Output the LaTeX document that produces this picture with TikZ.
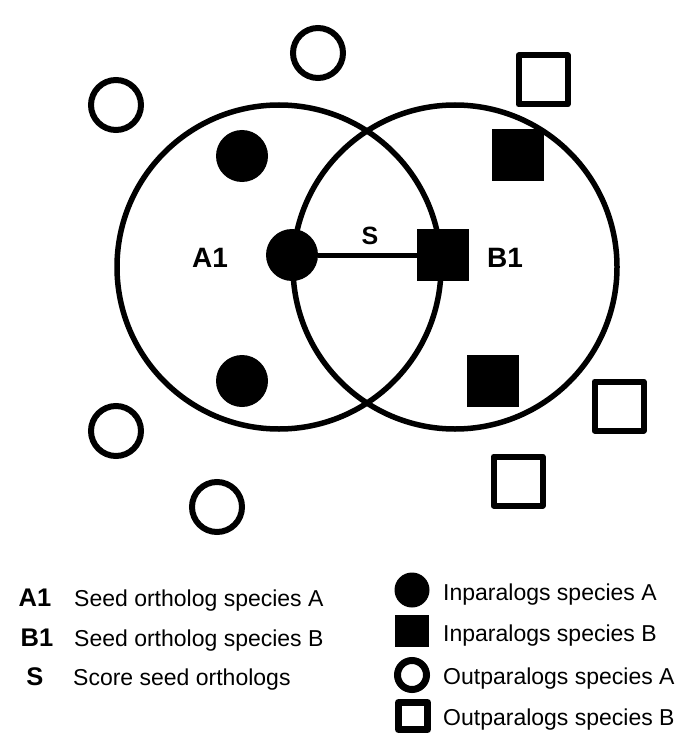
\documentclass[tikz,border=0pt]{standalone}
\usepackage{fontspec}
\setmainfont{Liberation Sans}
\begin{document}
\begin{tikzpicture}[x=1pt,y=-1pt,
  setc/.style={circle, draw, line width=5.5pt, minimum size=324pt, inner sep=0pt},
  inA/.style={circle, fill=black, minimum size=52pt, inner sep=0pt},
  inB/.style={rectangle, fill=black, minimum width=52pt, minimum height=52pt, inner sep=0pt},
  outA/.style={circle, draw, line width=6pt, minimum size=50pt, inner sep=0pt},
  outB/.style={rectangle, draw, line width=6pt, line join=round, minimum width=49pt, minimum height=49pt, inner sep=0pt},
  biglbl/.style={font=\fontsize{28}{30}\selectfont\bfseries, inner sep=0pt, anchor=base},
  keylbl/.style={font=\fontsize{25.5}{28}\selectfont\bfseries, inner sep=0pt, anchor=base},
  keytxt/.style={font=\fontsize{23}{26}\selectfont, inner sep=0pt, anchor=base west},
  kinA/.style={circle, fill=black, minimum size=35pt, inner sep=0pt},
  kinB/.style={rectangle, fill=black, minimum width=34pt, minimum height=32pt, inner sep=0pt},
  koutA/.style={circle, draw, line width=7pt, minimum size=29pt, inner sep=0pt},
  koutB/.style={rectangle, draw, line width=7pt, line join=round, minimum width=29pt, minimum height=27pt, inner sep=0pt}
]
\fill[white] (0,0) rectangle (685,746);
\useasboundingbox (0,0) rectangle (685,746);

% sets
\node[setc] (setA) at (279,267) {};
\node[setc] (setB) at (455,267) {};

% inparalogs A
\node[inA] (a2) at (242,156) {};
\node[inA] (a3) at (242,381) {};
\node[inA] (a1) at (292,255) {};
% inparalogs B
\node[inB] (b1) at (443,255) {};
\node[inB] (b2) at (518,155) {};
\node[inB] (b3) at (493,381) {};
% outparalogs A
\node[outA] (oa1) at (116,105) {};
\node[outA] (oa2) at (318,53) {};
\node[outA] (oa3) at (116,431) {};
\node[outA] (oa4) at (217,507) {};
% outparalogs B
\node[outB] (ob1) at (543,80) {};
\node[outB] (ob2) at (619,406) {};
\node[outB] (ob3) at (518,481) {};

% score connector
\draw[line width=5pt] (a1) -- (b1);

% labels
\node[biglbl] (lA1) at (210,267) {A1};
\node[biglbl] (lB1) at (505,267) {B1};
\node[biglbl, font=\fontsize{25}{28}\selectfont\bfseries] (lS) at (370,244) {S};

% legend left
\node[keylbl] (kA1) at (35,606) {A1};
\node[keytxt] (tA1) at (74,606) {Seed ortholog species A};
\node[keylbl] (kB1) at (37,646) {B1};
\node[keytxt] (tB1) at (74,646) {Seed ortholog species B};
\node[keylbl] (kS) at (35,685) {S};
\node[keytxt] (tS) at (73,685) {Score seed orthologs};

% legend right
\node[kinA] (kiA) at (412,590) {};
\node[keytxt] (tiA) at (443,600) {Inparalogs species A};
\node[kinB] (kiB) at (412,631) {};
\node[keytxt] (tiB) at (443,641) {Inparalogs species B};
\node[koutA] (koA) at (412,675) {};
\node[keytxt] (toA) at (443,684) {Outparalogs species A};
\node[koutB] (koB) at (413,716) {};
\node[keytxt] (toB) at (443,725) {Outparalogs species B};
\end{tikzpicture}
\end{document}
